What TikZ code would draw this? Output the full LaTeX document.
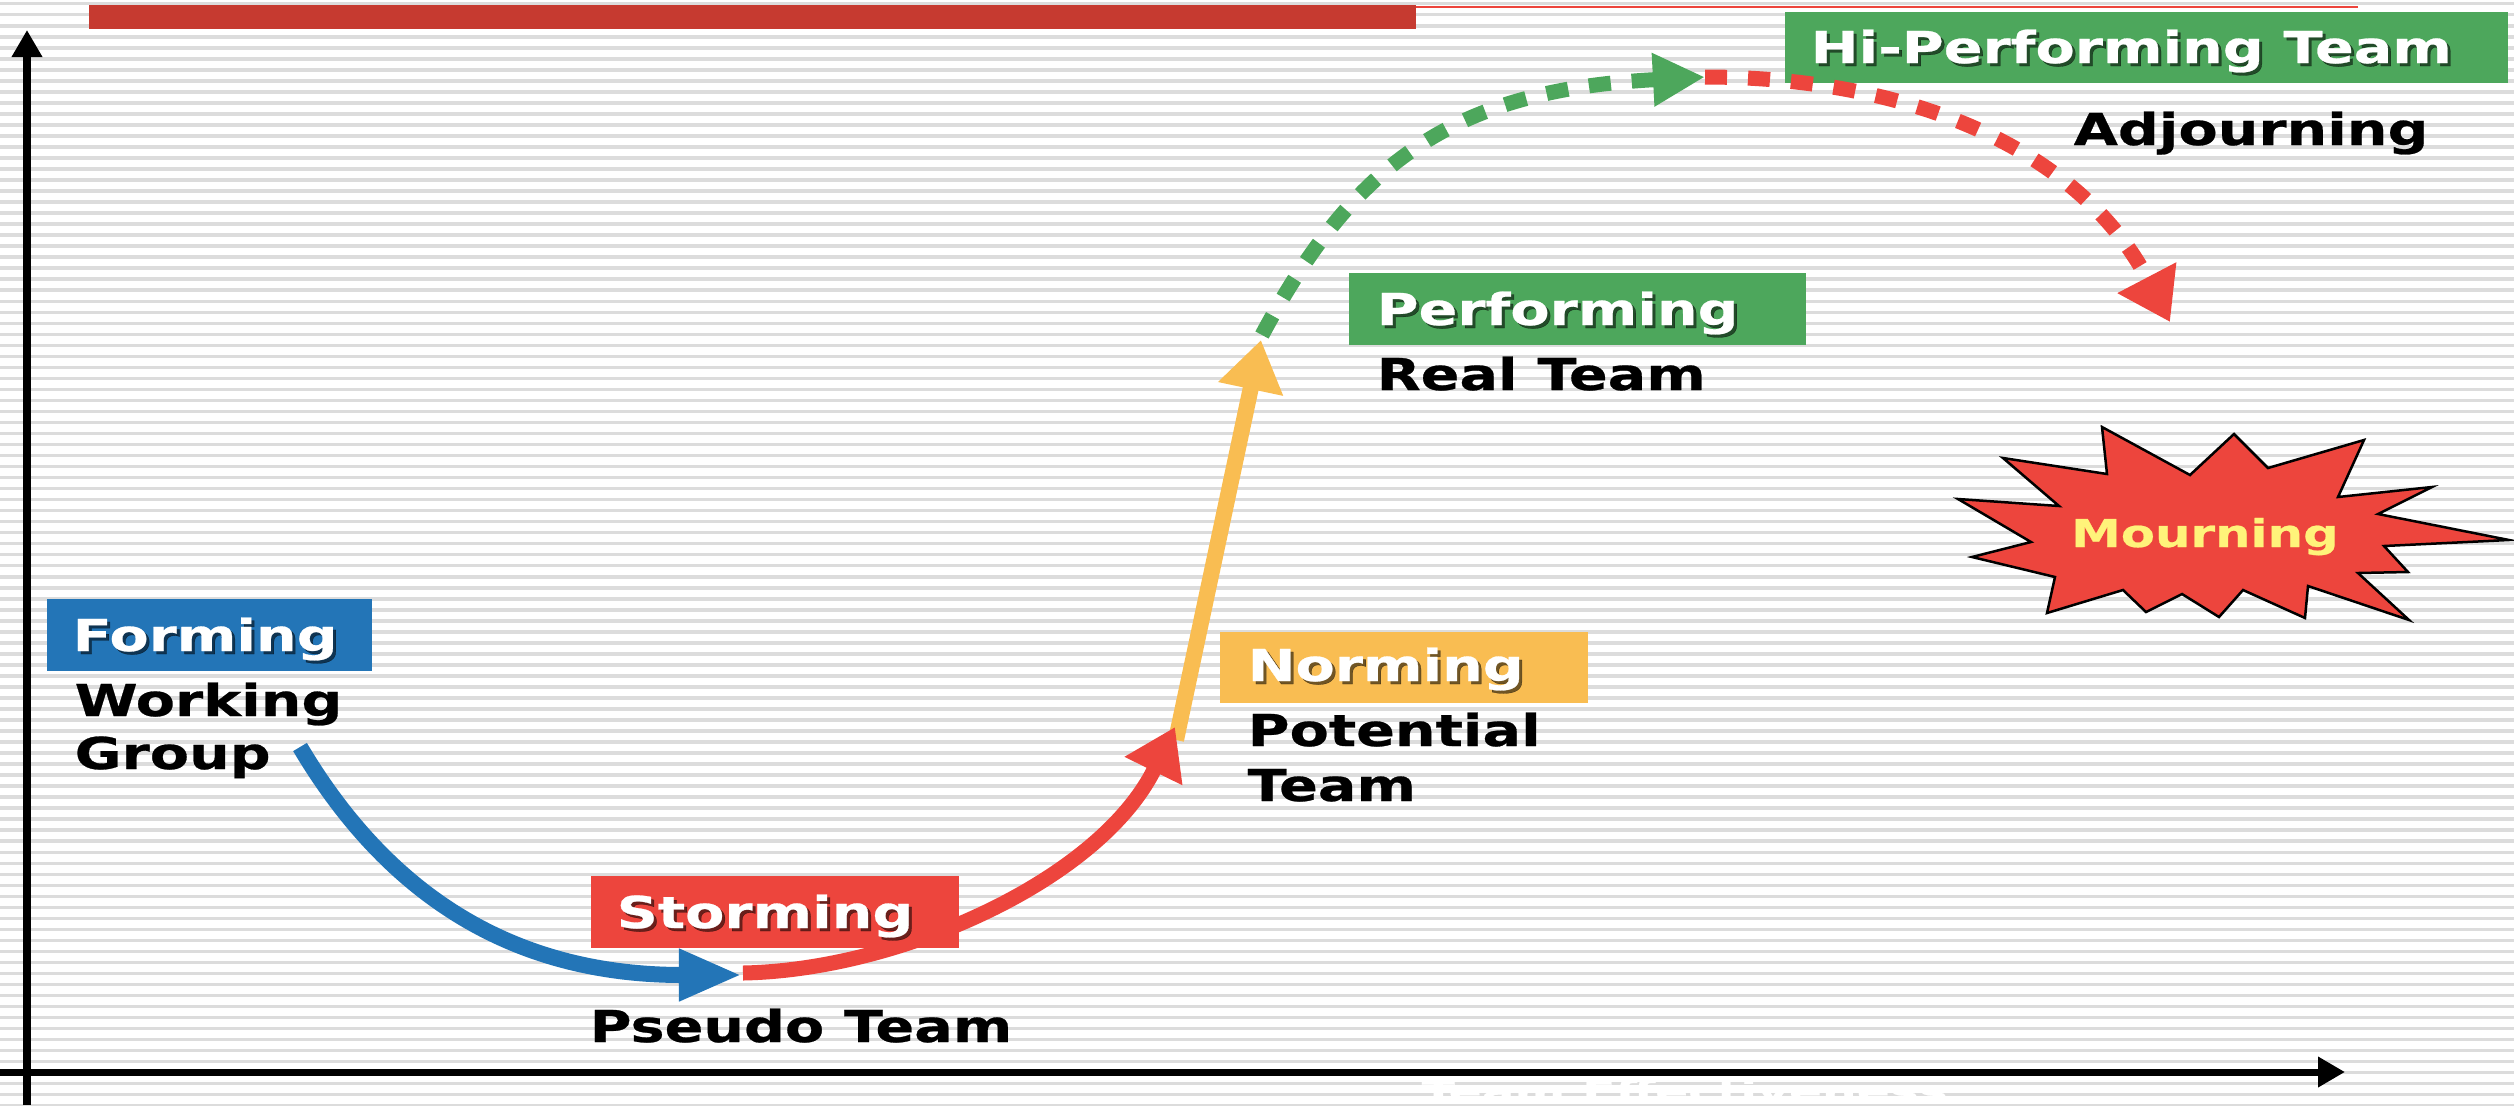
\documentclass[tikz,border=0pt]{standalone}
\usepackage{fontspec}
\newfontfamily\lblfont[FakeStretch=1.3,FakeBold=0.6]{DejaVu Sans}
\usetikzlibrary{arrows.meta}
\definecolor{cblue}{RGB}{35,117,183}
\definecolor{cred}{RGB}{237,69,61}
\definecolor{cyel}{RGB}{249,189,82}
\definecolor{cgreen}{RGB}{77,167,92}
\definecolor{cbar}{RGB}{198,58,48}
\definecolor{cstripe}{RGB}{220,220,220}
\definecolor{cmourn}{RGB}{255,243,122}
\begin{document}
\begin{tikzpicture}[x=0.01cm,y=-0.01cm,
  lbl/.style={font=\lblfont\bfseries\fontsize{12.5}{15}\selectfont, anchor=base west, inner sep=0pt, text=black},
  wlbl/.style={lbl, text=white},
  shlbl/.style={lbl, text=black, opacity=0.55},
  stagebox/.style={draw=none, inner sep=0pt, minimum height=0.72cm},
  axisline/.style={line width=0.07cm, black, -{Triangle[length=0.27cm,width=0.29cm]}},
  thickarrow/.style={line width=0.16cm},
  dotarrow/.style={line width=0.15cm, dash pattern=on 0.22cm off 0.21cm}
]
\useasboundingbox (0,0) rectangle (2514,1105);
\fill[white] (0,0) rectangle (2514,1105);
\foreach \k in {0,...,100} {
  \draw[cstripe, line width=0.035cm] (0,{3.7+11.02*\k}) -- (2514,{3.7+11.02*\k});
}
% top bar
\fill[cbar] (89,5) rectangle (1416,29);
\draw[cred, line width=0.02cm] (1416,6.5) -- (2358,6.5);
% axes
\coordinate (yb) at (27,1105);
\coordinate (yt) at (27,30);
\coordinate (xl) at (0,1072);
\coordinate (xr) at (2345,1072);
\draw[axisline] (yb) -- (yt);
\draw[axisline] (xl) -- (xr);
% axis label (white, as in the reference)
\node (xlabel) [lbl, text=white, font=\lblfont\bfseries\fontsize{8.4}{10}\selectfont] at (1421,1102) {\scalebox{1.27}[1]{Team Effectiveness}};
% arrows
\coordinate (b0) at (300,747);
\coordinate (b1) at (742,975);
\coordinate (r0) at (743,973);
\coordinate (r1) at (1175,727);
\coordinate (y0) at (1176,740);
\coordinate (y1) at (1261,340);
\coordinate (g0) at (1262,335);
\coordinate (g1) at (1705,77);
\coordinate (d1) at (2170,322);
\draw[thickarrow, cyel, -{Triangle[length=0.5cm,width=0.63cm]}] (y0) -- (y1);
\draw[thickarrow, cblue, -{Triangle[length=0.63cm,width=0.48cm]}] (b0) .. controls (402,919) and (540,975) .. (b1);
\draw[thickarrow, line width=0.15cm, cred, -{Triangle[length=0.49cm,width=0.61cm]}] (r0) .. controls (900,970) and (1100,880) .. (r1);
\draw[dotarrow, cgreen, -{Triangle[length=0.52cm,width=0.5cm]}] (g0) .. controls (1356,159) and (1457,90) .. (g1);
% boxes
\node (formbox) [stagebox, fill=cblue, minimum width=3.25cm] at (209.5,635) {};
\node (stormbox) [stagebox, fill=cred, minimum width=3.68cm] at (775,912) {};
\node (normbox) [stagebox, fill=cyel, minimum width=3.68cm, minimum height=0.71cm] at (1404,667.5) {};
\node (perfbox) [stagebox, fill=cgreen, minimum width=4.57cm] at (1577.5,309) {};
\node (hibox) [stagebox, fill=cgreen, minimum width=7.23cm, minimum height=0.71cm] at (2146.5,47.5) {};
% red dotted arc over the hi-performing box
\draw[dotarrow, cred, -{Triangle[length=0.5cm,width=0.63cm]}] (g1) .. controls (1905,77) and (2078,146) .. (d1);
% box labels with shadows
\node (formsh) [shlbl] at (75,654) {Forming};
\node (formtx) [wlbl] at (72,651) {Forming};
\node (stormsh) [shlbl] at (619,931) {Storming};
\node (stormtx) [wlbl] at (616,928) {Storming};
\node (normsh) [shlbl] at (1250,684) {Norming};
\node (normtx) [wlbl] at (1247,681) {Norming};
\node (perfsh) [shlbl] at (1379,328) {Performing};
\node (perftx) [wlbl] at (1376,325) {Performing};
\node (hish) [shlbl] at (1813,66) {Hi-Performing Team};
\node (hitx) [wlbl] at (1810,63) {Hi-Performing Team};
% black labels
\node (working) [lbl] at (74,716) {Working};
\node (group) [lbl] at (74,769) {Group};
\node (pseudo) [lbl] at (589,1042) {Pseudo Team};
\node (potential) [lbl] at (1247,746) {Potential};
\node (team) [lbl] at (1247,801) {Team};
\node (real) [lbl] at (1376,390) {Real Team};
\node (adjourn) [lbl] at (2073,145) {Adjourning};
% starburst
\filldraw[fill=cred, draw=black, line width=0.025cm, line join=miter]
  (1958,499) -- (2059,506) -- (2003,458) -- (2107,474) -- (2102,427) -- (2190,475) --
  (2234,434) -- (2268,468) -- (2364,440) -- (2338,497) -- (2432,487) -- (2378,514) --
  (2509,540) -- (2384,546) -- (2408,572) -- (2358,573) -- (2409,620) -- (2308,586) --
  (2305,618) -- (2243,590) -- (2219,617) -- (2182,594) -- (2146,612) -- (2123,590) --
  (2047,613) -- (2055,577) -- (1972,557) -- (2031,542) -- cycle;
\node (mourn) [font=\lblfont\bfseries\fontsize{10.9}{13}\selectfont, text=cmourn, anchor=base, inner sep=0pt] at (2205,547) {Mourning};
\end{tikzpicture}
\end{document}
